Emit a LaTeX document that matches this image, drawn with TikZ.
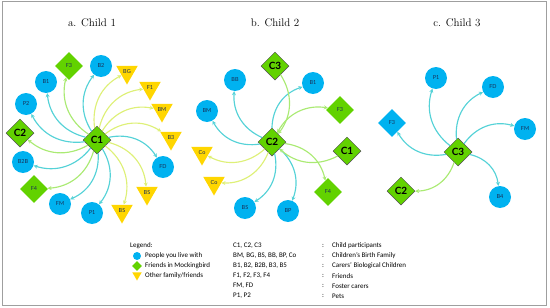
\documentclass[tikz,border=0pt]{standalone}
\usepackage{fontspec}
\newfontfamily\nodefont{Lato}
\newfontfamily\legendfont{Carlito}
\usetikzlibrary{arrows.meta,shapes.geometric}
\definecolor{pblue}{RGB}{0,178,240}
\definecolor{pgreen}{RGB}{98,210,0}
\definecolor{pyellow}{RGB}{255,214,0}
\definecolor{navy}{RGB}{25,45,85}
\definecolor{ablue}{RGB}{85,210,215}
\definecolor{ayellow}{RGB}{222,240,120}
\definecolor{agreen}{RGB}{170,234,115}

\begin{document}
\begin{tikzpicture}[x=1pt,y=1pt,>={Stealth[length=4pt,width=4pt]},font=\nodefont]
\tikzstyle{lv}=[circle,fill=pblue,minimum size=22pt,inner sep=0pt,text=navy,font=\nodefont\fontsize{5.5}{6}\selectfont]
\tikzstyle{fr}=[diamond,fill=pgreen,minimum width=28pt,minimum height=28pt,inner sep=0pt,text=navy,font=\nodefont\fontsize{5.5}{6}\selectfont]
\tikzstyle{ch}=[fr,draw=gray!60!black,line width=0.5pt,text=black,font=\nodefont\bfseries\fontsize{10}{10}\selectfont]
\tikzstyle{ot}=[regular polygon,regular polygon sides=3,shape border rotate=180,fill=pyellow,minimum size=25pt,inner sep=0pt,text=navy,font=\nodefont\fontsize{5.5}{6}\selectfont]
\tikzstyle{ab}=[->,line width=1.15pt,draw=ablue,bend left=35]
\tikzstyle{ay}=[->,line width=1.15pt,draw=ayellow,bend left=35]
\tikzstyle{ag}=[->,line width=1.15pt,draw=agreen,bend left=35]
\tikzstyle{ttl}=[font=\rmfamily\fontsize{11}{13}\selectfont]
\tikzstyle{lg}=[anchor=west,inner sep=0pt,font=\legendfont\fontsize{7}{8}\selectfont]
\useasboundingbox (0,0) rectangle (550,-308);
\draw[gray!75,line width=0.9pt] (2.5,-1.5) rectangle (546,-305.5);
% a. Child 1
\node[ttl] (ta) at (92,-23) {a. Child 1};
\node[ch] (a-C1) at (97,-140) {C1};
\node[fr] (a-F3) at (69,-66) {F3};
\node[lv] (a-B2) at (101,-66) {B2};
\node[ot] (a-BG) at (127,-72) {BG};
\node[lv] (a-B1) at (46,-82) {B1};
\node[ot] (a-F1) at (150,-88) {F1};
\node[lv] (a-P2) at (26,-104) {P2};
\node[ot] (a-BM) at (162,-110) {BM};
\node[ch] (a-C2) at (20,-133) {C2};
\node[ot] (a-B3) at (171,-138) {B3};
\node[lv] (a-B2B) at (23,-162) {B2B};
\node[lv] (a-FD) at (163,-167) {FD};
\node[fr] (a-F4) at (34,-189) {F4};
\node[ot] (a-BS1) at (147,-193) {BS};
\node[lv] (a-FM) at (60,-204) {FM};
\node[lv] (a-P1) at (92,-213) {P1};
\node[ot] (a-BS2) at (122,-211) {BS};
\draw[ab] (a-C1) to (a-B2); \draw[ab] (a-C1) to (a-B1); \draw[ab] (a-C1) to (a-P2); \draw[ab] (a-C1) to (a-B2B);
\draw[ab] (a-C1) to (a-FM); \draw[ab] (a-C1) to (a-P1); \draw[ab] (a-C1) to (a-FD);
\draw[ag] (a-C1) to (a-F3); \draw[ag] (a-C1) to (a-C2); \draw[ag] (a-C1) to (a-F4);
\draw[ay] (a-C1) to (a-BG); \draw[ay] (a-C1) to (a-F1); \draw[ay] (a-C1) to (a-BM); \draw[ay] (a-C1) to (a-B3);
\draw[ay] (a-C1) to (a-BS1); \draw[ay] (a-C1) to (a-BS2);
% b. Child 2
\node[ttl] (tb) at (275,-23) {b. Child 2};
\node[ch] (b-C2) at (272,-142) {C2};
\node[ch] (b-C3) at (275,-66) {C3};
\node[lv] (b-BB) at (235,-80) {BB};
\node[lv] (b-B1) at (313,-83) {B1};
\node[fr] (b-F3) at (340,-110) {F3};
\node[lv] (b-BM) at (207,-111) {BM};
\node[ch] (b-C1) at (347,-151) {C1};
\node[ot] (b-Co1) at (202,-153) {Co};
\node[ot] (b-Co2) at (214,-183) {Co};
\node[fr] (b-F4) at (328,-192) {F4};
\node[lv] (b-BS) at (245,-208) {BS};
\node[lv] (b-BP) at (288,-211) {BP};
\draw[ab] (b-C2) to (b-BB); \draw[ab] (b-C2) to (b-BM); \draw[ab] (b-C2) to (b-B1);
\draw[ab] (b-C2) to (b-BS); \draw[ab] (b-C2) to (b-BP);
\draw[ay] (b-C2) to (b-Co1); \draw[ay] (b-C2) to (b-Co2);
\draw[ag] (b-C2) to (b-F4); \draw[ag,<->] (b-C2) to (b-F3);
\draw[ag] (b-C3) to (b-C2); \draw[ag] (b-C1) to (b-C2);
% c. Child 3
\node[ttl] (tc) at (457,-23) {c. Child 3};
\node[ch] (c-C3) at (458,-152) {C3};
\node[lv] (c-P1) at (436,-78) {P1};
\node[lv] (c-FD) at (493,-87) {FD};
\node[fr,fill=pblue] (c-F3) at (392,-123) {F3};
\node[lv] (c-FM) at (525,-129) {FM};
\node[ch] (c-C2) at (401,-191) {C2};
\node[lv] (c-B4) at (500,-197) {B4};
\draw[ab] (c-C3) to (c-P1); \draw[ab] (c-C3) to (c-FD); \draw[ab] (c-C3) to (c-FM);
\draw[ab] (c-C3) to (c-B4); \draw[ab] (c-C3) to (c-F3);
\draw[ag] (c-C3) to (c-C2);
% legend
\node[lg] (lg0) at (130,-246) {Legend:};
\node[circle,fill=pblue,minimum size=8pt,inner sep=0pt] (li1) at (137,-256) {};
\node[diamond,fill=pgreen,minimum width=10pt,minimum height=10pt,inner sep=0pt] (li2) at (137,-266) {};
\node[regular polygon,regular polygon sides=3,shape border rotate=180,fill=pyellow,minimum size=11pt,inner sep=0pt] (li3) at (137,-275) {};
\node[lg] (lg1) at (145,-256) {People you live with};
\node[lg] (lg2) at (145,-266) {Friends in Mockingbird};
\node[lg] (lg3) at (145,-276) {Other family/friends};
\node[lg] (k1) at (233,-246) {C1, C2, C3};
\node[lg] (k2) at (233,-256) {BM, BG, BS, BB, BP, Co};
\node[lg] (k3) at (233,-266) {B1, B2, B2B, B3, B5};
\node[lg] (k4) at (233,-276) {F1, F2, F3, F4};
\node[lg] (k5) at (233,-286) {FM, FD};
\node[lg] (k6) at (233,-296) {P1, P2};
\node[lg] (s1) at (322,-246) {:}; \node[lg] (d1) at (332,-246) {Child participants};
\node[lg] (s2) at (322,-256) {:}; \node[lg] (d2) at (332,-256) {Children’s Birth Family};
\node[lg] (s3) at (322,-266) {:}; \node[lg] (d3) at (332,-266) {Carers’ Biological Children};
\node[lg] (s4) at (322,-276) {:}; \node[lg] (d4) at (332,-276) {Friends};
\node[lg] (s5) at (322,-286) {:}; \node[lg] (d5) at (332,-286) {Foster carers};
\node[lg] (s6) at (322,-296) {:}; \node[lg] (d6) at (332,-296) {Pets};
\end{tikzpicture}
\end{document}
